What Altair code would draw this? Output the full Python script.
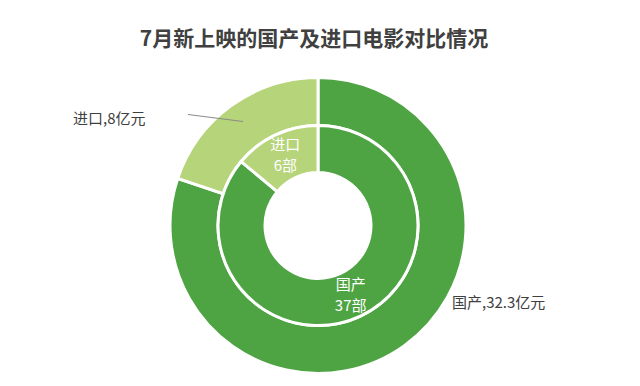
import altair as alt
import pandas as pd

categories = ["国产", "进口"]
box_office = [32.3, 8]          # 亿元 (outer ring)
film_count = [37, 6]            # 部 (inner ring)
colors = ["#4ea443", "#b6d47a"]

df = pd.DataFrame({
    "category": categories,
    "box_office": box_office,
    "film_count": film_count,
    "idx": [0, 1],
})
df["count_label"] = [f"{n}部" for n in film_count]
df["outer_label"] = [f"{c},{v:g}亿元" for c, v in zip(categories, box_office)]

FONT = "Noto Sans CJK SC"
CX, CY = 310, 165.5

color = alt.Color("category:N", scale=alt.Scale(domain=categories, range=colors), legend=None)
order = alt.Order("idx:Q", sort="ascending")

base = alt.Chart(df)

outer = base.mark_arc(stroke="white", strokeWidth=3).encode(
    theta=alt.Theta("box_office:Q", stack=True),
    color=color,
    order=order,
    x=alt.value(CX), y=alt.value(CY),
    radius=alt.value(148), radius2=alt.value(100),
)

inner = base.mark_arc(stroke="white", strokeWidth=3).encode(
    theta=alt.Theta("film_count:Q", stack=True),
    color=color,
    order=order,
    x=alt.value(CX), y=alt.value(CY),
    radius=alt.value(100), radius2=alt.value(53),
)


def inner_line(field, dy):
    return base.mark_text(
        font=FONT, fontSize=15, color="white", baseline="middle", dy=dy
    ).encode(
        theta=alt.Theta("film_count:Q", stack=True),
        order=order,
        x=alt.value(CX), y=alt.value(CY),
        radius=alt.value(77),
        text=f"{field}:N",
    )


inner_name = inner_line("category", -10.5)
inner_count = inner_line("count_label", 10.5)

lab_dom = base.transform_filter(alt.datum.category == "国产").mark_text(
    font=FONT, fontSize=15, color="#404040", align="left", baseline="middle"
).encode(x=alt.value(444), y=alt.value(CY + 77), text="outer_label:N")

lab_imp = base.transform_filter(alt.datum.category == "进口").mark_text(
    font=FONT, fontSize=15, color="#404040", align="left", baseline="middle"
).encode(x=alt.value(65), y=alt.value(CY - 107), text="outer_label:N")

leader = base.transform_filter(alt.datum.category == "进口").mark_rule(
    color="#8a8a8a", strokeWidth=1
).encode(
    x=alt.value(180), x2=alt.value(235),
    y=alt.value(CY - 111), y2=alt.value(CY - 104),
)

chart = alt.layer(
    outer, inner, inner_name, inner_count, lab_dom, lab_imp, leader
).resolve_scale(theta="independent").properties(
    width=624,
    height=320,
    padding={"left": 0, "right": 0, "top": 21, "bottom": 0},
    title=alt.TitleParams(
        "7月新上映的国产及进口电影对比情况",
        font=FONT, fontSize=21, fontWeight="bold", color="#404040",
        anchor="middle", offset=10, dx=-6,
    ),
).configure_view(stroke=None)

chart.save("out.html", embed_options={"renderer": "svg", "actions": False})
